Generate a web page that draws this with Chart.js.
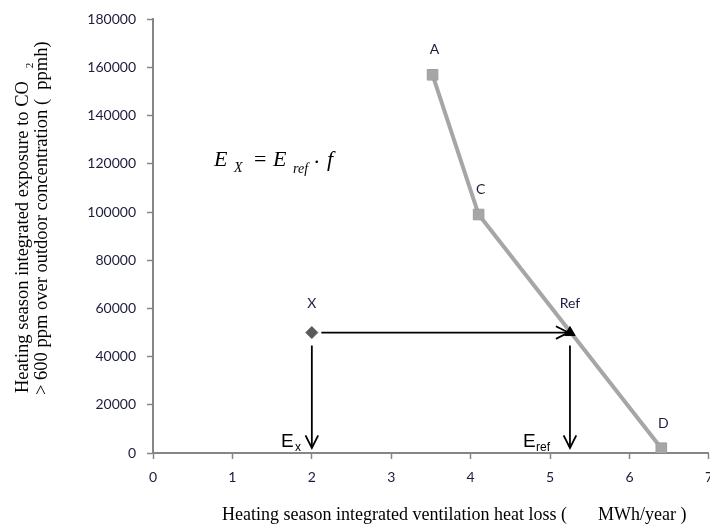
<!DOCTYPE html>
<html>
<head>
<meta charset="utf-8">
<script src="https://cdn.jsdelivr.net/npm/chart.js@4.4.0/dist/chart.umd.min.js"></script>
<style>
html, body { margin: 0; padding: 0; background: #fff; overflow: hidden; }
#wrap { width: 710px; height: 524px; overflow: hidden; }
canvas { display: block; }
</style>
</head>
<body>
<div id="wrap"><canvas id="chart" width="723" height="524"></canvas></div>
<script>
// curve of the reference cases
const curveNames = ['A', 'C', 'D'];
const curveX = [3.52, 4.1, 6.4];
const curveY = [157000, 99000, 2000];

// case X and the reference case
const caseNames = ['X', 'Ref'];
const caseX = [2, 5.25];
const caseY = [50000, 50000];

// arrows (start -> tip)
const arrowStartX = [2.12, 2, 5.25];
const arrowStartY = [50000, 44600, 44600];
const arrowEndX = [5.23, 2, 5.25];
const arrowEndY = [50000, 2100, 2100];

const xTicks = [0, 1, 2, 3, 4, 5, 6, 7];
const yTicks = [0, 20000, 40000, 60000, 80000, 100000, 120000, 140000, 160000, 180000];

const AXIS = '#868686';
const LABEL = '#1c1c3c';
const SERIF = '"Liberation Serif", "Times New Roman", serif';
const SANS = '"Liberation Sans", Arial, sans-serif';

function xy(xs, ys){
    return xs.map((x, i) => ({x: x, y: ys[i]}));
}

let datasets = [
    {
        data: [{x: caseX[1], y: caseY[1]}],
        pointStyle: 'triangle', pointRadius: 6,
        backgroundColor: '#000', borderColor: '#000', borderWidth: 1,
        showLine: false
    },
    {
        data: [{x: caseX[0], y: caseY[0]}],
        pointStyle: 'rectRot', pointRadius: 6,
        backgroundColor: '#595959', borderColor: '#595959', borderWidth: 1,
        showLine: false
    },
    {
        data: xy(curveX, curveY),
        showLine: true,
        borderColor: '#a6a6a6', borderWidth: 4,
        pointStyle: 'rect', pointRadius: 7.5,
        backgroundColor: '#a6a6a6', pointBorderColor: '#9e9e9e', pointBorderWidth: 1
    }
];
for(let i = 0; i < arrowStartX.length; i++){
    datasets.push({
        data: [{x: arrowStartX[i], y: arrowStartY[i]}, {x: arrowEndX[i], y: arrowEndY[i]}],
        showLine: true,
        borderColor: '#000', borderWidth: 1.8,
        pointRadius: 0
    });
}

const annotations = {
    id: 'annotations',
    afterDatasetsDraw(chart){
        const ctx = chart.ctx;
        const xs = chart.scales.x, ys = chart.scales.y;
        ctx.save();

        // arrow heads
        ctx.strokeStyle = '#000';
        ctx.lineWidth = 1.8;
        for(let i = 0; i < arrowStartX.length; i++){
            const x0 = xs.getPixelForValue(arrowStartX[i]), y0 = ys.getPixelForValue(arrowStartY[i]);
            const x1 = xs.getPixelForValue(arrowEndX[i]), y1 = ys.getPixelForValue(arrowEndY[i]);
            const a = Math.atan2(y1 - y0, x1 - x0);
            const len = 14, spread = 0.47;
            ctx.beginPath();
            ctx.moveTo(x1 - len * Math.cos(a - spread), y1 - len * Math.sin(a - spread));
            ctx.lineTo(x1, y1);
            ctx.lineTo(x1 - len * Math.cos(a + spread), y1 - len * Math.sin(a + spread));
            ctx.stroke();
        }

        // point labels
        ctx.fillStyle = LABEL;
        ctx.font = '14px Lato, sans-serif';
        ctx.textAlign = 'center';
        ctx.textBaseline = 'middle';
        curveNames.forEach((n, i) => {
            ctx.fillText(n, xs.getPixelForValue(curveX[i]) + 2, ys.getPixelForValue(curveY[i]) - 25);
        });
        caseNames.forEach((n, i) => {
            ctx.fillText(n, xs.getPixelForValue(caseX[i]), ys.getPixelForValue(caseY[i]) - 29);
        });

        // E_x and E_ref
        ctx.fillStyle = '#000';
        ctx.textAlign = 'left';
        ctx.textBaseline = 'alphabetic';
        ctx.font = '19px ' + SANS;
        ctx.fillText('E', 281, 447);
        ctx.fillText('E', 523, 447);
        ctx.font = '12px ' + SANS;
        ctx.fillText('x', 295, 451);
        ctx.fillText('ref', 536, 451);

        // equation
        ctx.font = 'italic 22px ' + SERIF;
        ctx.fillText('E', 214, 166);
        ctx.fillText('E', 273, 166);
        ctx.fillText('f', 327, 166);
        ctx.font = 'italic 14px ' + SERIF;
        ctx.fillText('X', 234, 172);
        ctx.fillText('ref', 293, 173);
        ctx.font = '22px ' + SERIF;
        ctx.fillText('=', 254, 166);
        ctx.fillText('.', 314, 163);

        // x title
        ctx.font = '18px ' + SERIF;
        ctx.fillText('Heating season integrated ventilation heat loss (', 222, 520);
        ctx.fillText('MWh/year )', 598, 520);

        // y title
        ctx.translate(28, 393);
        ctx.rotate(-Math.PI / 2);
        ctx.font = '18.5px ' + SERIF;
        const line1 = 'Heating season integrated exposure to CO';
        ctx.fillText(line1, 0, 0);
        const w1 = ctx.measureText(line1).width;
        ctx.font = '11px ' + SERIF;
        ctx.fillText('2', w1 + 13, 5);
        ctx.font = '18.5px ' + SERIF;
        ctx.fillText('> 600 ppm over outdoor concentration (  ppmh)', -2, 19);
        ctx.restore();
    }
};

let chartCtx = document.getElementById('chart').getContext('2d');
let config = {
    type: 'scatter',
    data: { datasets: datasets },
    options: {
        responsive: false,
        animation: false,
        events: [],
        layout: { padding: { top: 17, left: 0, right: 0, bottom: 0 } },
        plugins: {
            legend: { display: false },
            tooltip: { enabled: false }
        },
        scales: {
            x: {
                type: 'linear',
                min: 0,
                max: 7,
                afterBuildTicks: (scale) => { scale.ticks = xTicks.map(v => ({value: v})); },
                afterFit: (scale) => { scale.height = 71; },
                ticks: {
                    color: LABEL,
                    padding: 10,
                    font: { family: 'Lato', size: 14 },
                    callback: (v) => String(v)
                },
                grid: { drawOnChartArea: false, color: AXIS, tickLength: 6, tickWidth: 1.5 },
                border: { color: AXIS, width: 2 }
            },
            y: {
                type: 'linear',
                min: 0,
                max: 180000,
                afterBuildTicks: (scale) => { scale.ticks = yTicks.map(v => ({value: v})); },
                afterFit: (scale) => { scale.width = 153; },
                ticks: {
                    color: LABEL,
                    padding: 11,
                    font: { family: 'Lato', size: 14 },
                    callback: (v) => String(v)
                },
                grid: { drawOnChartArea: false, color: AXIS, tickLength: 6, tickWidth: 1.5 },
                border: { color: AXIS, width: 2 }
            }
        }
    },
    plugins: [annotations]
};
let myChart = new Chart(chartCtx, config);
</script>
</body>
</html>
